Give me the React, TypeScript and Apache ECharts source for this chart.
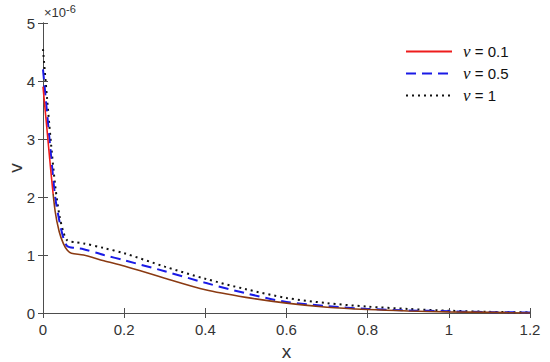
import React, { useEffect, useRef } from "react";
import * as echarts from "echarts";

// values in units of 1e-6
const xRed = [0, 0.01, 0.02, 0.03, 0.04, 0.05, 0.06, 0.07, 0.1, 0.15, 0.2, 0.3, 0.4, 0.5, 0.6, 0.7, 0.8, 0.9, 1.0, 1.1, 1.2];
const yRed = [3.9, 3.15, 2.4, 1.75, 1.4, 1.2, 1.08, 1.03, 1.0, 0.9, 0.81, 0.6, 0.4, 0.27, 0.17, 0.1, 0.06, 0.035, 0.02, 0.01, 0.0];
const xBlue = [0, 0.01, 0.02, 0.03, 0.04, 0.05, 0.06, 0.08, 0.1, 0.15, 0.2, 0.3, 0.4, 0.5, 0.6, 0.7, 0.8, 0.9, 1.0, 1.1, 1.2];
const yBlue = [4.2, 3.45, 2.7, 2.0, 1.6, 1.3, 1.15, 1.12, 1.1, 1.0, 0.91, 0.72, 0.52, 0.34, 0.19, 0.12, 0.07, 0.045, 0.03, 0.015, 0.01];
const xBlack = [0, 0.01, 0.02, 0.03, 0.04, 0.05, 0.06, 0.08, 0.1, 0.15, 0.2, 0.3, 0.4, 0.5, 0.6, 0.7, 0.8, 0.9, 1.0, 1.1, 1.2];
const yBlack = [4.55, 3.7, 2.9, 2.2, 1.7, 1.4, 1.25, 1.22, 1.2, 1.12, 1.03, 0.8, 0.59, 0.41, 0.26, 0.17, 0.11, 0.07, 0.04, 0.02, 0.01];
const names = ["0.1", "0.5", "1"];
const xTicks = [0, 0.2, 0.4, 0.6, 0.8, 1, 1.2];
const yTicks = [0, 1, 2, 3, 4, 5];

const zip = (xs: number[], ys: number[]) => xs.map((x, i) => [x, ys[i]]);

export default function App() {
  const ref = useRef<HTMLDivElement>(null);
  useEffect(() => {
    const chart = echarts.init(ref.current!, null, { renderer: "svg" });
    const font = "Arial, 'Liberation Sans', Helvetica, sans-serif";
    const axisCommon = {
      axisLine: { show: true, lineStyle: { color: "#4d4d4d", width: 1 } },
      axisTick: { show: true, inside: true, length: 5, lineStyle: { color: "#4d4d4d" } },
      splitLine: { show: false },
    };
    const red = "#ee1c1c";
    const brown = "#8a3a12";
    const blue = "#1a1ae6";
    const black = "#111";
    const split = 194 / 362;
    const redGradient = new echarts.graphic.LinearGradient(0, 0, 0, 362, [
      { offset: 0, color: red },
      { offset: split, color: red },
      { offset: split + 0.001, color: brown },
      { offset: 1, color: brown },
    ], true);
    chart.setOption({
      animation: false,
      backgroundColor: "#fff",
      grid: { left: 43, right: 20, top: 23, bottom: 49, outerBoundsMode: "none", containLabel: false },
      xAxis: [
        {
          type: "value", min: 0, max: 1.2, interval: 0.2, position: "bottom",
          ...axisCommon,
          axisLabel: { color: "#333", fontSize: 15, fontFamily: font, margin: 9,
            formatter: (v: number) => (xTicks.includes(Math.round(v * 10) / 10) ? String(Math.round(v * 10) / 10) : "") },
          name: "x", nameLocation: "middle", nameGap: 29, nameMoveOverlap: false,
          nameTextStyle: { color: "#333", fontSize: 19, fontFamily: font },
        },
        {
          type: "value", min: 0, max: 1.2, interval: 0.2, position: "top",
          ...axisCommon, axisLabel: { show: false },
        },
      ],
      yAxis: [
        {
          type: "value", min: 0, max: 5, interval: 1, position: "left",
          ...axisCommon,
          axisLabel: { color: "#333", fontSize: 15, fontFamily: font, margin: 8,
            formatter: (v: number) => (yTicks.includes(v) ? String(v) : "") },
          name: "v", nameLocation: "middle", nameGap: 18, nameMoveOverlap: false,
          nameTextStyle: { color: "#333", fontSize: 19, fontFamily: font },
        },
        {
          type: "value", min: 0, max: 5, interval: 1, position: "right",
          ...axisCommon, axisLabel: { show: false },
        },
      ],
      legend: {
        left: 400, top: 38, orient: "vertical", itemGap: 5, itemWidth: 46, itemHeight: 14,
        itemStyle: { opacity: 0, borderWidth: 0 },
        data: names.map((n, i) => ({
          name: "ν = " + n,
          lineStyle: { color: [red, blue, black][i], opacity: 1 },
        })),
        formatter: (name: string) => "{i|ν}" + name.slice(1),
        textStyle: { fontSize: 15, fontFamily: font, color: "#111", padding: [0, 0, 0, 6],
          rich: { i: { fontStyle: "italic", fontFamily: "'Liberation Serif', 'DejaVu Serif', serif", fontSize: 17, color: "#111" } } },
      },
      graphic: [
        {
          type: "text", left: 44, top: 3,
          style: {
            text: "×10{s|-6}", fontSize: 13, fontFamily: font, fill: "#333",
            rich: { s: { fontSize: 11, verticalAlign: "top", padding: [0, 0, 8, 0], fill: "#333" } },
          },
        },
      ],
      series: [
        {
          name: "ν = " + names[0], type: "line", smooth: 0.3, symbol: "none",
          data: zip(xRed, yRed),
          lineStyle: { color: redGradient, width: 1.6, type: "solid" }, itemStyle: { color: red }, z: 4,
        },
        {
          name: "ν = " + names[1], type: "line", smooth: 0.3, symbol: "none",
          data: zip(xBlue, yBlue),
          lineStyle: { color: blue, width: 2, type: [10, 6] }, itemStyle: { color: blue }, z: 3,
        },
        {
          name: "ν = " + names[2], type: "line", smooth: 0.3, symbol: "none",
          data: zip(xBlack, yBlack),
          lineStyle: { color: black, width: 2, type: [2, 4] }, itemStyle: { color: black }, z: 2,
        },
      ],
    });
    return () => chart.dispose();
  }, []);
  return <div ref={ref} style={{ width: 550, height: 362, position: "absolute", left: 0, top: 0 }} />;
}
